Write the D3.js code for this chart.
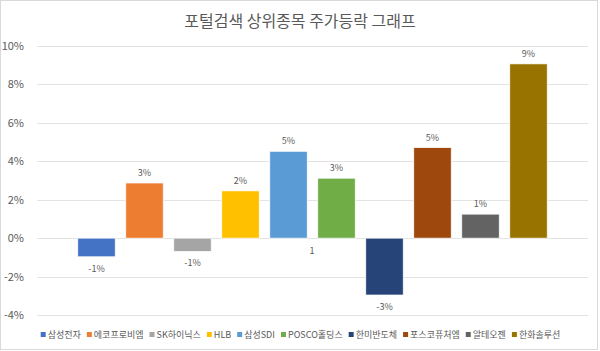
<!DOCTYPE html>
<html>
<head>
<meta charset="utf-8">
<script src="https://cdn.jsdelivr.net/npm/d3@7"></script>
<style>
  body { margin: 0; background: #fff; }
  text { font-family: 'Noto Sans CJK KR', 'Noto Sans', sans-serif; }
</style>
</head>
<body>
<div id="chart"></div>
<script>
const names = ['삼성전자', '에코프로비엠', 'SK하이닉스', 'HLB', '삼성SDI', 'POSCO홀딩스', '한미반도체', '포스코퓨처엠', '알테오젠', '한화솔루션']
const values = [-0.97, 2.87, -0.69, 2.46, 4.52, 3.12, -2.96, 4.71, 1.25, 9.07]
const colors = ['#4472C4', '#ED7D31', '#A5A5A5', '#FFC000', '#5B9BD5', '#70AD47', '#264478', '#9E480E', '#636363', '#997300']
const yTicks = [-4, -2, 0, 2, 4, 6, 8, 10]

const width = 600
const height = 351
const textColor = '#595959'

const svg = d3.select('#chart')
  .append('svg')
  .attr('width', width)
  .attr('height', height)

// chart border
svg.append('rect')
  .attr('x', 0.5).attr('y', 0.5)
  .attr('width', width - 3).attr('height', height - 2)
  .attr('fill', '#fff')
  .attr('stroke', '#d9d9d9')

svg.append('text')
  .attr('x', 300)
  .attr('y', 27)
  .attr('text-anchor', 'middle')
  .attr('font-size', 16)
  .attr('fill', textColor)
  .text('포털검색 상위종목 주가등락 그래프')

const yScale = d3.scaleLinear().domain([-4, 10]).range([315, 46])
const xScale = d3.scaleBand().domain(names).range([72.5, 552.5]).paddingInner(0.22).paddingOuter(0.11)

// gridlines
svg.append('g')
  .selectAll('line')
  .data(yTicks)
  .join('line')
  .attr('x1', 37).attr('x2', 588)
  .attr('y1', d => Math.round(yScale(d)) + 0.5)
  .attr('y2', d => Math.round(yScale(d)) + 0.5)
  .attr('stroke', '#e3e3e3')

const yAxis = svg.append('g')
  .attr('transform', 'translate(27,0)')
  .call(d3.axisLeft(yScale).tickValues(yTicks).tickSize(0).tickFormat(d => `${d}%`))
yAxis.select('.domain').remove()
yAxis.selectAll('text')
  .attr('font-size', 11)
  .attr('fill', textColor)
  .style('font-family', "'Noto Sans CJK KR', sans-serif")

// bars
svg.append('g')
  .selectAll('rect')
  .data(values)
  .join('rect')
  .attr('x', (d, i) => xScale(names[i]))
  .attr('width', xScale.bandwidth())
  .attr('y', d => yScale(Math.max(0, d)))
  .attr('height', d => Math.abs(yScale(d) - yScale(0)))
  .attr('fill', (d, i) => colors[i])
  .attr('stroke', '#fff')
  .attr('stroke-width', 0.7)

// data labels
svg.append('g')
  .selectAll('text')
  .data(values)
  .join('text')
  .attr('x', (d, i) => xScale(names[i]) + xScale.bandwidth() / 2)
  .attr('y', d => d >= 0 ? yScale(d) - 7 : yScale(d) + 15)
  .attr('text-anchor', 'middle')
  .attr('font-size', 9)
  .attr('fill', textColor)
  .text(d => `${Math.round(d)}%`)

// stray label under 삼성SDI
svg.append('text')
  .attr('x', 312)
  .attr('y', 254)
  .attr('text-anchor', 'middle')
  .attr('font-size', 9)
  .attr('fill', textColor)
  .text('1')

// legend
const legend = svg.append('g')
let lx = 0
names.forEach((name, i) => {
  const item = legend.append('g').attr('transform', `translate(${lx},0)`)
  item.append('rect')
    .attr('x', 0).attr('y', -6)
    .attr('width', 5).attr('height', 5)
    .attr('fill', colors[i])
  const t = item.append('text')
    .attr('x', 7)
    .attr('y', 0)
    .attr('font-size', 9)
    .attr('fill', textColor)
    .text(name)
  lx += 7 + t.node().getComputedTextLength() + 6
})
const legendWidth = lx - 6
legend.attr('transform', `translate(${300.5 - legendWidth / 2},338)`)
</script>
</body>
</html>
